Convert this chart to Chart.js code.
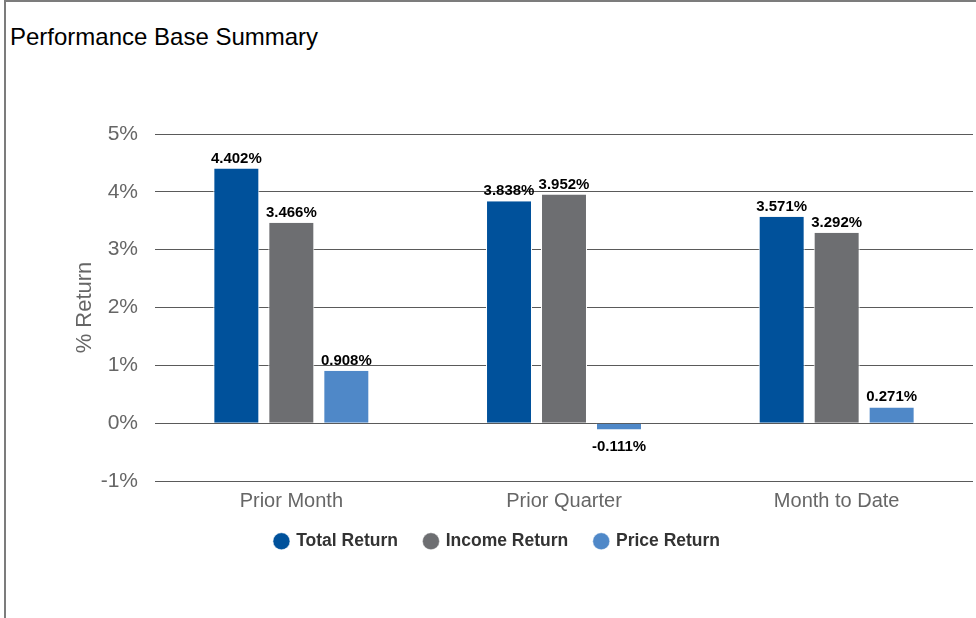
<!DOCTYPE html>
<html>
<head>
<meta charset="utf-8">
<script src="https://cdn.jsdelivr.net/npm/chart.js@4/dist/chart.umd.min.js"></script>
<style>
  html, body { margin: 0; padding: 0; background: #fff; overflow: hidden; }
  #frame { position: absolute; left: 4px; top: 0; width: 990px; height: 630px;
           border-left: 2px solid #7c7c7c; border-top: 2px solid #7c7c7c; }
  #title { position: absolute; left: 10px; top: 25px; font: 24px "Liberation Sans", Arial, Helvetica, sans-serif;
           line-height: 24px; color: #000; white-space: nowrap; }
  #wrap { position: absolute; left: 0; top: 0; width: 976px; height: 618px; }
</style>
</head>
<body>
<div id="frame"></div>
<div id="title">Performance Base Summary</div>
<div id="wrap"><canvas id="c" width="976" height="618"></canvas></div>
<script>
const categories = ["Prior Month", "Prior Quarter", "Month to Date"];
const seriesNames = ["Total Return", "Income Return", "Price Return"];
const totalReturn = [4.402, 3.838, 3.571];
const incomeReturn = [3.466, 3.952, 3.292];
const priceReturn = [0.908, -0.111, 0.271];
const yTicks = [-1, 0, 1, 2, 3, 4, 5];
const colors = ["#00519b", "#6d6e71", "#4f88c8"];

const FONT = '"Liberation Sans", Arial, Helvetica, sans-serif';

const labelPlugin = {
  id: 'barLabels',
  afterDatasetsDraw(chart) {
    const ctx = chart.ctx;
    ctx.save();
    ctx.font = 'bold 15px ' + FONT;
    ctx.fillStyle = '#000';
    ctx.textAlign = 'center';
    chart.data.datasets.forEach((ds, i) => {
      const meta = chart.getDatasetMeta(i);
      meta.data.forEach((el, j) => {
        const v = ds.data[j];
        const txt = v.toFixed(3) + '%';
        if (v >= 0) {
          ctx.textBaseline = 'alphabetic';
          ctx.fillText(txt, el.x, el.y - 6);
        } else {
          ctx.textBaseline = 'top';
          ctx.fillText(txt, el.x, el.y + 10);
        }
      });
    });
    ctx.restore();
  }
};

// legend: wider item spacing than vertical spacing
const legendTweak = {
  id: 'legendTweak',
  beforeLayout(chart) {
    const lg = chart.legend;
    if (!lg || lg._tweaked) return;
    lg._tweaked = true;
    const fit = lg.fit;
    lg.fit = function () { fit.call(this); this.height = 37; };
    const draw = lg.draw;
    lg.draw = function (area) { const t = this.top; this.top = t - 16; draw.call(this, area); this.top = t; };
  }
};

const PADL = 22.5;

new Chart(document.getElementById('c'), {
  type: 'bar',
  data: {
    labels: categories,
    datasets: [
      { label: seriesNames[0], data: totalReturn, backgroundColor: colors[0] },
      { label: seriesNames[1], data: incomeReturn, backgroundColor: colors[1] },
      { label: seriesNames[2], data: priceReturn, backgroundColor: colors[2] }
    ]
  },
  options: {
    responsive: false,
    animation: false,
    devicePixelRatio: 1,
    layout: { padding: { left: PADL, right: 3, top: 134, bottom: 59.5 } },
    datasets: { bar: { categoryPercentage: 0.605, barPercentage: 0.836,
                       borderColor: '#ffffff', borderWidth: { top: 0, left: 1, right: 1, bottom: 0 } } },
    scales: {
      x: {
        grid: { display: false },
        border: { display: false },
        ticks: { color: '#666', font: { family: FONT, size: 20 }, padding: 0 },
        afterFit(s) { s.height = 40.5; }
      },
      y: {
        min: yTicks[0], max: yTicks[yTicks.length - 1],
        afterBuildTicks(s) { s.ticks = yTicks.map(v => ({ value: v })); },
        grid: { color: '#5a5a5a', lineWidth: 1, drawTicks: false },
        border: { display: false },
        ticks: { color: '#666', font: { family: FONT, size: 21 }, padding: 17,
                 callback: v => v + '%' },
        title: { display: true, text: '% Return', color: '#666',
                 font: { family: FONT, size: 22 }, padding: { top: 49, bottom: 0 } },
        afterFit(s) { s.width = 155 - PADL; }
      }
    },
    plugins: {
      legend: {
        position: 'bottom',
        labels: {
          usePointStyle: true, pointStyle: 'circle',
          boxWidth: 12, boxHeight: 12, padding: 27,
          color: '#333', font: { family: FONT, size: 17.5, weight: 'bold' }
        }
      },
      tooltip: { enabled: false }
    }
  },
  plugins: [labelPlugin, legendTweak]
});
</script>
</body>
</html>
